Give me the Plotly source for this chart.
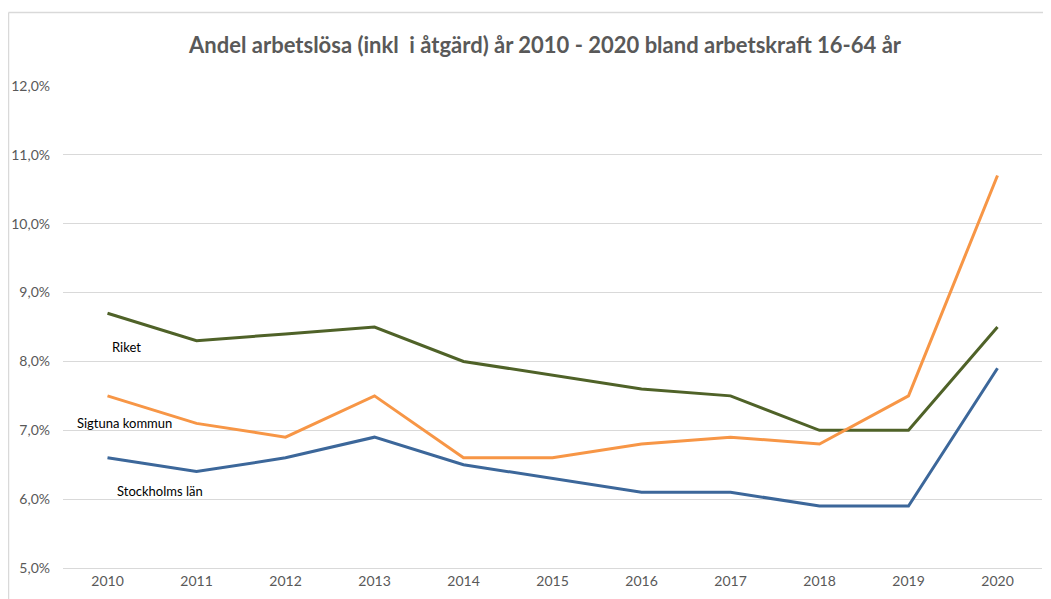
import plotly.graph_objects as go

years = [2010, 2011, 2012, 2013, 2014, 2015, 2016, 2017, 2018, 2019, 2020]
riket = [8.7, 8.3, 8.4, 8.5, 8.0, 7.8, 7.6, 7.5, 7.0, 7.0, 8.5]
sigtuna = [7.5, 7.1, 6.9, 7.5, 6.6, 6.6, 6.8, 6.9, 6.8, 7.5, 10.7]
stockholm = [6.6, 6.4, 6.6, 6.9, 6.5, 6.3, 6.1, 6.1, 5.9, 5.9, 7.9]

y_ticks = [5, 6, 7, 8, 9, 10, 11, 12]
y_labels = ["5,0%", "6,0%", "7,0%", "8,0%", "9,0%", "10,0%", "11,0%", "12,0%"]

series = [
    ("Riket", riket, "#4F6228"),
    ("Sigtuna kommun", sigtuna, "#F79646"),
    ("Stockholms län", stockholm, "#3C679A"),
]

fig = go.Figure()
for name, vals, col in series:
    fig.add_trace(go.Scatter(x=years, y=vals, mode="lines", name=name,
                             line=dict(color=col, width=3)))

font_fam = "Lato, 'Open Sans', sans-serif"

labels = [("Riket", 2010.21, 8.21), ("Sigtuna kommun", 2010.19, 7.11), ("Stockholms län", 2010.59, 6.12)]
for txt, x, y in labels:
    fig.add_annotation(x=x, y=y, text=txt, showarrow=False,
                       font=dict(family=font_fam, size=13, color="#000000"))

# outer chart border (left and top visible)
L, T, W, H = 55, 78, 979, 482
bx = (0.5 - L) / W
by = (T + H - 4.5) / H
fig.add_shape(type="line", xref="paper", yref="paper", x0=bx, x1=bx, y0=-0.2, y1=by,
              line=dict(color="#d9d9d9", width=1.5))
fig.add_shape(type="line", xref="paper", yref="paper", x0=bx, x1=1.05, y0=by, y1=by,
              line=dict(color="#d9d9d9", width=1.5))

fig.update_layout(
    width=1051, height=599,
    margin=dict(l=L, r=1051 - L - W, t=T, b=599 - T - H),
    paper_bgcolor="white", plot_bgcolor="white",
    showlegend=False,
    title=dict(text="<b>Andel arbetslösa (inkl  i åtgärd) år 2010 - 2020 bland arbetskraft 16-64 år</b>",
               x=0.511, xanchor="center", y=0.937, yanchor="middle",
               font=dict(family=font_fam, size=22, color="#595959")),
    xaxis=dict(range=[2009.5, 2020.5], tickvals=years, ticktext=[str(y) for y in years],
               showgrid=False, zeroline=False, showline=True, linecolor="#d9d9d9", linewidth=1,
               tickfont=dict(family=font_fam, size=14, color="#595959"), ticks="",
               automargin=False),
    yaxis=dict(range=[5, 12], tickvals=y_ticks, ticktext=y_labels,
               showgrid=True, gridcolor="#d9d9d9", gridwidth=1, zeroline=False,
               tickfont=dict(family=font_fam, size=14, color="#595959"), ticks="",
               ticklabelstandoff=12, automargin=False),
)

fig.write_html("out.html")
